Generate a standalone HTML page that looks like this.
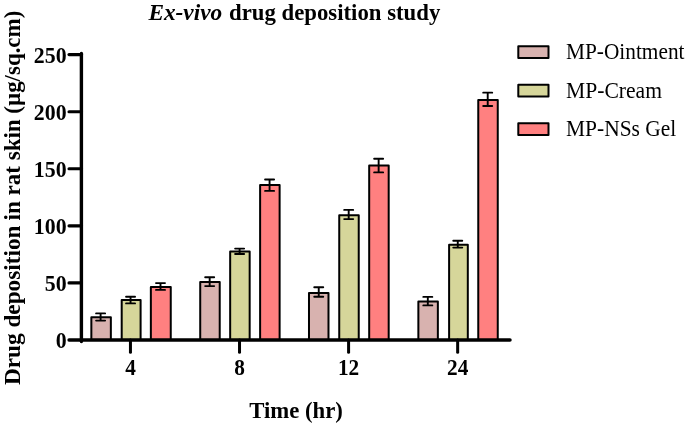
<!DOCTYPE html>
<html><head><meta charset="utf-8"><title>Ex-vivo drug deposition study</title>
<style>
html,body{margin:0;padding:0;background:#fff;}
svg{display:block;font-family:"Liberation Serif",serif;}
</style></head><body>
<svg width="685" height="425" viewBox="0 0 685 425">
<rect x="0" y="0" width="685" height="425" fill="#ffffff"/>
<text y="20" font-size="23.6" font-weight="bold"><tspan x="148.4" font-style="italic" textLength="73.8" lengthAdjust="spacingAndGlyphs">Ex-vivo</tspan> <tspan x="229" textLength="211.3" lengthAdjust="spacingAndGlyphs">drug deposition study</tspan></text>
<rect x="91.35" y="317.30" width="19.50" height="22.70" fill="#D8B2AF" stroke="#000" stroke-width="2" stroke-linejoin="round"/>
<path d="M100.60 313.40V320.60" stroke="#000" stroke-width="1.9" fill="none"/>
<path d="M96.10 313.40h9M96.10 320.60h9" stroke="#000" stroke-width="1.9" stroke-linecap="round" fill="none"/>
<rect x="121.70" y="300.10" width="18.90" height="39.90" fill="#D6D69A" stroke="#000" stroke-width="2" stroke-linejoin="round"/>
<path d="M130.55 296.80V303.40" stroke="#000" stroke-width="1.9" fill="none"/>
<path d="M126.05 296.80h9M126.05 303.40h9" stroke="#000" stroke-width="1.9" stroke-linecap="round" fill="none"/>
<rect x="150.85" y="286.95" width="19.90" height="53.05" fill="#FF8080" stroke="#000" stroke-width="2" stroke-linejoin="round"/>
<path d="M160.50 283.10V289.90" stroke="#000" stroke-width="1.9" fill="none"/>
<path d="M156.00 283.10h9M156.00 289.90h9" stroke="#000" stroke-width="1.9" stroke-linecap="round" fill="none"/>
<rect x="200.22" y="282.00" width="19.50" height="58.00" fill="#D8B2AF" stroke="#000" stroke-width="2" stroke-linejoin="round"/>
<path d="M209.67 277.30V286.10" stroke="#000" stroke-width="1.9" fill="none"/>
<path d="M205.17 277.30h9M205.17 286.10h9" stroke="#000" stroke-width="1.9" stroke-linecap="round" fill="none"/>
<rect x="230.17" y="251.60" width="19.50" height="88.40" fill="#D6D69A" stroke="#000" stroke-width="2" stroke-linejoin="round"/>
<path d="M239.62 248.60V254.00" stroke="#000" stroke-width="1.9" fill="none"/>
<path d="M235.12 248.60h9M235.12 254.00h9" stroke="#000" stroke-width="1.9" stroke-linecap="round" fill="none"/>
<rect x="260.12" y="185.10" width="19.50" height="154.90" fill="#FF8080" stroke="#000" stroke-width="2" stroke-linejoin="round"/>
<path d="M269.57 179.50V190.90" stroke="#000" stroke-width="1.9" fill="none"/>
<path d="M265.07 179.50h9M265.07 190.90h9" stroke="#000" stroke-width="1.9" stroke-linecap="round" fill="none"/>
<rect x="308.99" y="292.95" width="19.50" height="47.05" fill="#D8B2AF" stroke="#000" stroke-width="2" stroke-linejoin="round"/>
<path d="M318.74 287.20V296.80" stroke="#000" stroke-width="1.9" fill="none"/>
<path d="M314.24 287.20h9M314.24 296.80h9" stroke="#000" stroke-width="1.9" stroke-linecap="round" fill="none"/>
<rect x="339.24" y="215.20" width="19.50" height="124.80" fill="#D6D69A" stroke="#000" stroke-width="2" stroke-linejoin="round"/>
<path d="M348.69 209.90V219.10" stroke="#000" stroke-width="1.9" fill="none"/>
<path d="M344.19 209.90h9M344.19 219.10h9" stroke="#000" stroke-width="1.9" stroke-linecap="round" fill="none"/>
<rect x="369.19" y="165.55" width="19.50" height="174.45" fill="#FF8080" stroke="#000" stroke-width="2" stroke-linejoin="round"/>
<path d="M378.64 158.70V172.40" stroke="#000" stroke-width="1.9" fill="none"/>
<path d="M374.14 158.70h9M374.14 172.40h9" stroke="#000" stroke-width="1.9" stroke-linecap="round" fill="none"/>
<rect x="418.36" y="301.40" width="19.50" height="38.60" fill="#D8B2AF" stroke="#000" stroke-width="2" stroke-linejoin="round"/>
<path d="M427.81 296.90V305.40" stroke="#000" stroke-width="1.9" fill="none"/>
<path d="M423.31 296.90h9M423.31 305.40h9" stroke="#000" stroke-width="1.9" stroke-linecap="round" fill="none"/>
<rect x="449.11" y="244.80" width="18.70" height="95.20" fill="#D6D69A" stroke="#000" stroke-width="2" stroke-linejoin="round"/>
<path d="M457.76 240.80V247.60" stroke="#000" stroke-width="1.9" fill="none"/>
<path d="M453.26 240.80h9M453.26 247.60h9" stroke="#000" stroke-width="1.9" stroke-linecap="round" fill="none"/>
<rect x="478.26" y="100.10" width="19.50" height="239.90" fill="#FF8080" stroke="#000" stroke-width="2" stroke-linejoin="round"/>
<path d="M487.71 92.65V105.95" stroke="#000" stroke-width="1.9" fill="none"/>
<path d="M483.21 92.65h9M483.21 105.95h9" stroke="#000" stroke-width="1.9" stroke-linecap="round" fill="none"/>
<path d="M81.4 53.5V341.5" stroke="#000" stroke-width="3.4" stroke-linecap="round" fill="none"/>
<path d="M81.5 340.1H510" stroke="#000" stroke-width="3.5" stroke-linecap="round" fill="none"/>
<path d="M69 340.00H81.5" stroke="#000" stroke-width="3.3" stroke-linecap="round" fill="none"/>
<text transform="translate(66.6 348.00) scale(0.945 1)" text-anchor="end" font-size="23.1" font-weight="bold">0</text>
<path d="M69 282.92H81.5" stroke="#000" stroke-width="3.1" stroke-linecap="round" fill="none"/>
<text transform="translate(66.6 290.92) scale(0.945 1)" text-anchor="end" font-size="23.1" font-weight="bold">50</text>
<path d="M69 225.84H81.5" stroke="#000" stroke-width="3.1" stroke-linecap="round" fill="none"/>
<text transform="translate(66.6 233.84) scale(0.945 1)" text-anchor="end" font-size="23.1" font-weight="bold">100</text>
<path d="M69 168.76H81.5" stroke="#000" stroke-width="3.1" stroke-linecap="round" fill="none"/>
<text transform="translate(66.6 176.76) scale(0.945 1)" text-anchor="end" font-size="23.1" font-weight="bold">150</text>
<path d="M69 111.68H81.5" stroke="#000" stroke-width="3.1" stroke-linecap="round" fill="none"/>
<text transform="translate(66.6 119.68) scale(0.945 1)" text-anchor="end" font-size="23.1" font-weight="bold">200</text>
<path d="M69 54.60H81.5" stroke="#000" stroke-width="3.1" stroke-linecap="round" fill="none"/>
<text transform="translate(66.6 62.60) scale(0.945 1)" text-anchor="end" font-size="23.1" font-weight="bold">250</text>
<path d="M130.45 340.0V352.2" stroke="#000" stroke-width="3" stroke-linecap="round" fill="none"/>
<text transform="translate(130.45 375) scale(0.922 1)" text-anchor="middle" font-size="23.1" font-weight="bold">4</text>
<path d="M239.52 340.0V352.2" stroke="#000" stroke-width="3" stroke-linecap="round" fill="none"/>
<text transform="translate(239.52 375) scale(0.922 1)" text-anchor="middle" font-size="23.1" font-weight="bold">8</text>
<path d="M348.59 340.0V352.2" stroke="#000" stroke-width="3" stroke-linecap="round" fill="none"/>
<text transform="translate(348.59 375) scale(0.922 1)" text-anchor="middle" font-size="23.1" font-weight="bold">12</text>
<path d="M457.66 340.0V352.2" stroke="#000" stroke-width="3" stroke-linecap="round" fill="none"/>
<text transform="translate(457.66 375) scale(0.922 1)" text-anchor="middle" font-size="23.1" font-weight="bold">24</text>
<text x="249.2" y="417.7" textLength="93.7" lengthAdjust="spacingAndGlyphs" font-size="23.6" font-weight="bold">Time (hr)</text>
<text transform="translate(20.1 385.1) rotate(-90)" font-size="23.6" font-weight="bold"><tspan x="0" textLength="159.6" lengthAdjust="spacingAndGlyphs">Drug deposition</tspan> <tspan x="164.6" textLength="101.2" lengthAdjust="spacingAndGlyphs">in rat skin</tspan> <tspan x="271.4" textLength="103.0" lengthAdjust="spacingAndGlyphs">(µg/sq.cm)</tspan></text>
<rect x="518.3" y="46.20" width="30.2" height="11.8" fill="#D8B2AF" stroke="#000" stroke-width="2" stroke-linejoin="round"/>
<text x="566" y="59.00" font-size="22.2" textLength="118.5" lengthAdjust="spacingAndGlyphs">MP-Ointment</text>
<rect x="518.3" y="84.75" width="30.2" height="11.8" fill="#D6D69A" stroke="#000" stroke-width="2" stroke-linejoin="round"/>
<text x="566" y="97.55" font-size="22.2" textLength="96.0" lengthAdjust="spacingAndGlyphs">MP-Cream</text>
<rect x="518.3" y="123.30" width="30.2" height="11.8" fill="#FF8080" stroke="#000" stroke-width="2" stroke-linejoin="round"/>
<text x="566" y="136.10" font-size="22.2" textLength="110.3" lengthAdjust="spacingAndGlyphs">MP-NSs Gel</text>
</svg>
</body></html>
